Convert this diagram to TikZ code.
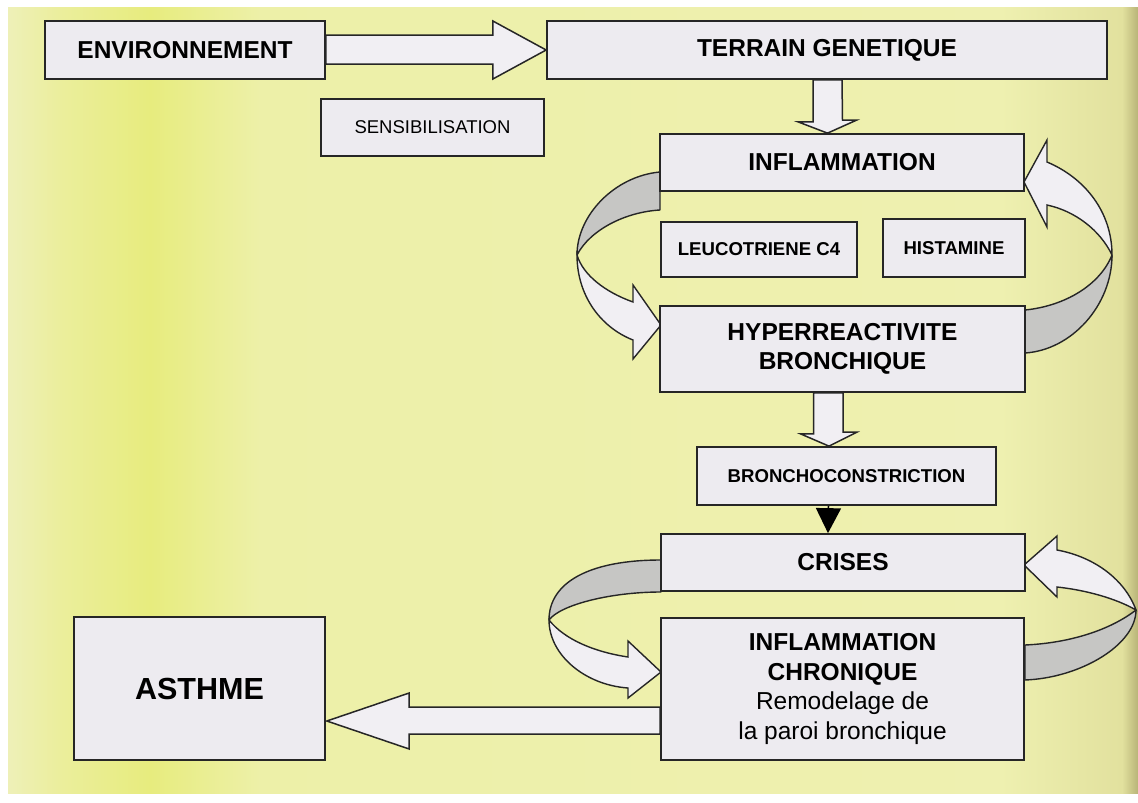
\documentclass[tikz,border=0pt]{standalone}
\usepackage{fontspec}
\setmainfont{Liberation Sans}
\usetikzlibrary{calc,arrows.meta}
\definecolor{boxfill}{HTML}{EDEBF0}
\definecolor{arrfill}{HTML}{F1EFF3}
\definecolor{ribgrey}{HTML}{C6C6C4}
\definecolor{ylA}{HTML}{EEF0B8}
\definecolor{ylB}{HTML}{EBEE9C}
\definecolor{ylC}{HTML}{E7EC7E}
\definecolor{ylD}{HTML}{EDF0A8}
\definecolor{ylE}{HTML}{EEF0B0}
\definecolor{ylF}{HTML}{E2E19E}
\definecolor{ylG}{HTML}{B8B478}
\newcommand\myhead{\fontsize{24.5}{29.5}\selectfont\bfseries}
\newcommand\mysmall{\fontsize{18.6}{22}\selectfont\bfseries}
\newcommand\mysens{\fontsize{18.5}{22}\selectfont}
\newcommand\myreg{\fontsize{24.5}{29.5}\selectfont\mdseries}
\newcommand\mybig{\fontsize{30.5}{36}\selectfont\bfseries}
\begin{document}
\begin{tikzpicture}[x=1pt,y=-1pt,
  box/.style={draw=black!85, line width=1.7pt, fill=boxfill, inner sep=0pt, align=center, font=\myhead},
  smallbox/.style={box, font=\mysmall},
  blockarrow/.style={draw=black!85, line width=1.5pt, fill=arrfill, line join=miter},
  ribback/.style={draw=black!85, line width=1.4pt, fill=ribgrey, line join=round},
  ribfront/.style={draw=black!85, line width=1.4pt, fill=arrfill, line join=miter},
  trianglearrow/.style={draw=black, line width=1.5pt, -{Triangle[width=25pt,length=25pt]}}
]
% background
\useasboundingbox (0,0) rectangle (1138,803);
\fill[white] (0,0) rectangle (1138,803);
\shade[left color=ylA, right color=ylB] (8,7) rectangle (60,793);
\shade[left color=ylB, right color=ylC] (60,7) rectangle (150,793);
\shade[left color=ylC, right color=ylD] (150,7) rectangle (260,793);
\shade[left color=ylD, right color=ylE] (260,7) rectangle (1000,793);
\shade[left color=ylE, right color=ylF] (1000,7) rectangle (1122,793);
\shade[left color=ylF, right color=ylG] (1122,7) rectangle (1138,793);

% curved ribbon arrows (behind boxes)
\filldraw[ribback] (660,172) .. controls (615,176) and (577,215) .. (577,255) .. controls (590,230) and (625,212) .. (660,210) -- cycle;
\filldraw[ribfront] (577,255) .. controls (577,295) and (600,327) .. (633,340) -- (633,359) -- (661,325) -- (633,285) -- (633,302) .. controls (605,292) and (583,275) .. (577,255) -- cycle;

\filldraw[ribback] (1025,353) .. controls (1072,350) and (1112,305) .. (1112,255) .. controls (1100,285) and (1065,306) .. (1025,310) -- cycle;
\filldraw[ribfront] (1112,255) .. controls (1112,212) and (1085,178) .. (1047,162) -- (1047,140) -- (1024,182) -- (1047,227) -- (1047,205) .. controls (1075,211) and (1100,230) .. (1112,255) -- cycle;

\filldraw[ribback] (661,560) .. controls (590,560) and (549,582) .. (549,620) .. controls (560,605) and (610,592) .. (661,592) -- cycle;
\filldraw[ribfront] (549,620) .. controls (549,655) and (585,685) .. (628,688) -- (628,698) -- (661,672) -- (628,641) -- (628,657) .. controls (595,652) and (565,640) .. (549,620) -- cycle;

\filldraw[ribback] (1025,680) .. controls (1080,678) and (1136,645) .. (1136,610) .. controls (1110,630) and (1070,643) .. (1025,645) -- cycle;
\filldraw[ribfront] (1136,610) .. controls (1125,580) and (1095,557) .. (1057,550) -- (1057,536) -- (1024,565) -- (1057,597) -- (1057,587) .. controls (1085,590) and (1115,598) .. (1136,610) -- cycle;

% node placement
\path
  (185,50)      node[box, minimum width=280pt, minimum height=58pt] (env) {ENVIRONNEMENT}
  (827,50)      node[box, minimum width=560pt, minimum height=58pt] (terrain) {TERRAIN GENETIQUE}
  (842,162.5)   node[box, minimum width=364pt, minimum height=57pt] (infl) {INFLAMMATION}
  (842.5,349)   node[box, minimum width=365pt, minimum height=86pt] (hyper) {HYPERREACTIVITE\\BRONCHIQUE}
  (846.5,476)   node[smallbox, minimum width=299pt, minimum height=58pt] (broncho) {BRONCHOCONSTRICTION}
  (843,562.5)   node[box, minimum width=364pt, minimum height=57pt] (crises) {CRISES}
  (842.5,689)   node[box, minimum width=363pt, minimum height=142pt] (chron) {INFLAMMATION\\CHRONIQUE\\{\myreg Remodelage de}\\{\myreg la paroi bronchique}}
  (199.5,688.5) node[box, minimum width=251pt, minimum height=143pt, font=\mybig] (asthme) {ASTHME};

% block arrows
\draw[blockarrow] ($(env.east)+(0,-15)$) -- ++(167,0) -- ++(0,-14) -- (terrain.west) -- ($(env.east)+(167,29)$) -- ++(0,-15) -- ($(env.east)+(0,14)$) -- cycle;
\draw[blockarrow] ($(terrain.south)+(-14,0)$) -- ++(0,42) -- ++(-15,0) -- ($(infl.north)+(-14.5,0)$) -- ++(29,-13) -- ++(-14,0) -- ($(terrain.south)+(15,0)$) -- cycle;
\draw[blockarrow] ($(hyper.south)+(-29,0)$) -- ++(0,41) -- ++(-13,0) -- ($(broncho.north)+(-17.5,0)$) -- ++(28,-14) -- ++(-14,0) -- ($(hyper.south)+(0.5,0)$) -- cycle;
\draw[blockarrow] ($(chron.west)+(0,18)$) -- ++(-251,0) -- ++(0,-14) -- ($(asthme.east)+(1,32.5)$) -- ($(chron.west)+(-251,60)$) -- ++(0,-15) -- ($(chron.west)+(0,45)$) -- cycle;

% boxes on top
\node[box, minimum width=280pt, minimum height=58pt] at (env) {ENVIRONNEMENT};
\node[box, minimum width=560pt, minimum height=58pt] at (terrain) {TERRAIN GENETIQUE};
\node[box, minimum width=223pt, minimum height=57pt, font=\mysens] (sens) at (432.5,127.5) {SENSIBILISATION};
\node[box, minimum width=364pt, minimum height=57pt] at (infl) {INFLAMMATION};
\node[smallbox, minimum width=196pt, minimum height=55pt] (leuco) at (759,249.5) {LEUCOTRIENE C4};
\node[smallbox, minimum width=142pt, minimum height=58pt] (hist) at (954,248) {HISTAMINE};
\node[box, minimum width=365pt, minimum height=86pt] at (hyper) {HYPERREACTIVITE\\BRONCHIQUE};
\node[smallbox, minimum width=299pt, minimum height=58pt] at (broncho) {BRONCHOCONSTRICTION};
\node[box, minimum width=364pt, minimum height=57pt] at (crises) {CRISES};
\node[box, minimum width=363pt, minimum height=142pt] at (chron) {INFLAMMATION\\CHRONIQUE\\{\myreg Remodelage de}\\{\myreg la paroi bronchique}};
\node[box, minimum width=251pt, minimum height=143pt, font=\mybig] at (asthme) {ASTHME};

% small black arrow
\draw[trianglearrow] ($(broncho.south)+(-18,0)$) -- ($(crises.north)+(-15,0)$);
\end{tikzpicture}
\end{document}
